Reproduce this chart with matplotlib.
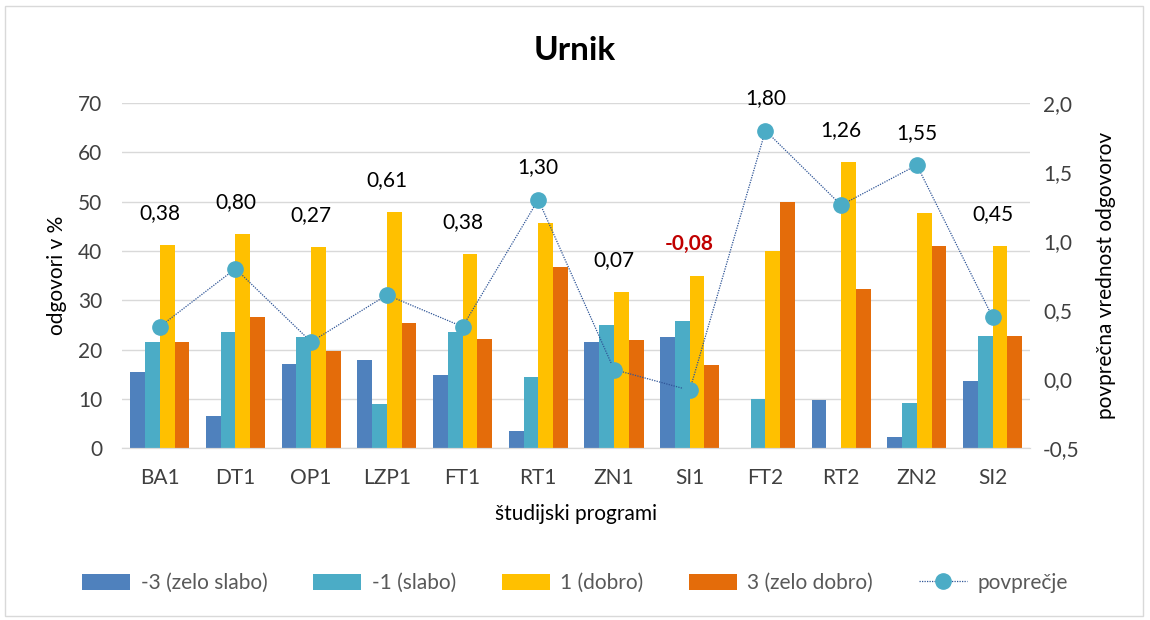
import numpy as np
import matplotlib
matplotlib.use('Agg')
import matplotlib.pyplot as plt
from matplotlib.patches import Rectangle
from matplotlib.ticker import FuncFormatter

plt.rcParams['font.family'] = ['Lato', 'DejaVu Sans']

programi = ['BA1', 'DT1', 'OP1', 'LZP1', 'FT1', 'RT1', 'ZN1', 'SI1', 'FT2', 'RT2', 'ZN2', 'SI2']
zelo_slabo = [15.4, 6.6, 17.0, 17.9, 14.9, 3.5, 21.6, 22.6, 0.0, 9.7, 2.2, 13.6]
slabo = [21.6, 23.5, 22.6, 9.0, 23.6, 14.4, 25.0, 25.8, 10.0, 0.0, 9.1, 22.8]
dobro = [41.2, 43.4, 40.8, 47.8, 39.4, 45.6, 31.6, 34.9, 40.0, 58.0, 47.7, 40.9]
zelo_dobro = [21.6, 26.6, 19.8, 25.4, 22.2, 36.7, 21.9, 16.8, 50.0, 32.3, 40.9, 22.8]
povprecje = [0.38, 0.80, 0.27, 0.61, 0.38, 1.30, 0.07, -0.08, 1.80, 1.26, 1.55, 0.45]

serije = [
    ('-3 (zelo slabo)', zelo_slabo, '#4F81BD'),
    ('-1 (slabo)', slabo, '#4BACC6'),
    ('1 (dobro)', dobro, '#FFC000'),
    ('3 (zelo dobro)', zelo_dobro, '#E46C0A'),
]

fig = plt.figure(figsize=(11.5, 6.2), dpi=100)
ax = fig.add_axes([0.106, 0.277, 0.79, 0.557])
ax2 = ax.twinx()

x = np.arange(len(programi))
w = 0.195
for i, (ime, vals, barva) in enumerate(serije):
    ax.bar(x + (i - 1.5) * w, vals, w, color=barva, label=ime, zorder=2)

ax2.plot(x, povprecje, color='#2F5597', linestyle=(0, (1, 1)), linewidth=0.9,
         marker='o', markersize=11, markerfacecolor='#4BACC6',
         markeredgecolor='#4BACC6', label='povprečje', zorder=3)

ax.set_ylim(0, 70)
ax.set_yticks(np.arange(0, 71, 10))
ax2.set_ylim(-0.5, 2.0)
ax2.set_yticks(np.arange(-0.5, 2.01, 0.5))
ax2.yaxis.set_major_formatter(FuncFormatter(lambda v, p: f'{v:.1f}'.replace('.', ',')))
ax.set_xlim(-0.5, len(programi) - 0.5)
ax.set_xticks(x)
ax.set_xticklabels(programi)

ax.grid(axis='y', color='#D9D9D9', linewidth=1, zorder=0)
ax.set_axisbelow(True)
for a in (ax, ax2):
    for s in ('top', 'left', 'right'):
        a.spines[s].set_visible(False)
    a.spines['bottom'].set_color('#D9D9D9')
    a.tick_params(length=0, labelsize=15, colors='#404040')
ax.tick_params(axis='y', pad=14)
ax.tick_params(axis='x', pad=14)
ax2.tick_params(axis='y', pad=9)

# data labels over the tallest mark in each group
for i, v in enumerate(povprecje):
    top_bar = max(s[1][i] for s in serije)
    top_pt = (v + 0.5) / 2.5 * 70
    y = max(top_bar, top_pt)
    txt = f'{v:.2f}'.replace('.', ',')
    if v < 0:
        ax.annotate(txt, (i, y), xytext=(0, 16), textcoords='offset points',
                    ha='center', va='bottom', fontsize=15, color='#C00000',
                    fontweight='bold', zorder=5)
    else:
        ax.annotate(txt, (i, y), xytext=(0, 16), textcoords='offset points',
                    ha='center', va='bottom', fontsize=15, color='black', zorder=5)

ax.set_ylabel('odgovori v %', fontsize=15, labelpad=8)
ax2.set_ylabel('povprečna vrednost odgovorov', fontsize=15, labelpad=12)
ax.set_xlabel('študijski programi', fontsize=15, labelpad=12)
fig.text(0.5, 0.918, 'Urnik', ha='center', va='center', fontsize=24, fontweight='bold')

h1, l1 = ax.get_legend_handles_labels()
h2, l2 = ax2.get_legend_handles_labels()
fig.legend(h1 + h2, l1 + l2, loc='center', bbox_to_anchor=(0.5, 0.06), ncol=5,
           frameon=False, fontsize=15, labelcolor='#595959', handlelength=2.3,
           handleheight=0.8, columnspacing=2.2, handletextpad=0.5)

fig.patches.append(Rectangle((0.004, 0.006), 0.99, 0.985, transform=fig.transFigure,
                             fill=False, edgecolor='#D9D9D9', linewidth=1))

fig.savefig('out.png', dpi=100)
